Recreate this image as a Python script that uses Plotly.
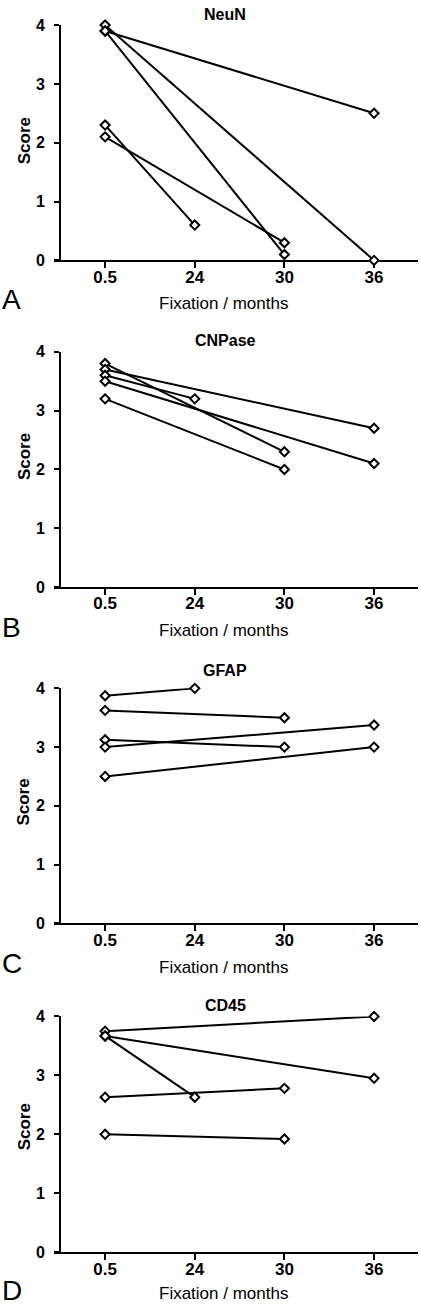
import plotly.graph_objects as go

W, H = 421, 1312

times = ["0.5", "24", "30", "36"]

# NeuN
neun_start = [4.0, 3.9, 3.9, 2.3, 2.1]
neun_end_time = ["36", "30", "36", "24", "30"]
neun_end = [0.0, 0.1, 2.5, 0.6, 0.3]

# CNPase
cnp_start = [3.8, 3.7, 3.6, 3.5, 3.2]
cnp_end_time = ["30", "36", "24", "36", "30"]
cnp_end = [2.3, 2.7, 3.2, 2.1, 2.0]

# GFAP
gfap_start = [3.875, 3.625, 3.125, 3.0, 2.5]
gfap_end_time = ["24", "30", "30", "36", "36"]
gfap_end = [4.0, 3.5, 3.0, 3.375, 3.0]

# CD45
cd45_start = [3.75, 3.67, 3.67, 2.63, 2.0]
cd45_end_time = ["36", "36", "24", "30", "30"]
cd45_end = [4.0, 2.95, 2.63, 2.78, 1.92]

panels = [
    ("NeuN", "A", neun_start, neun_end_time, neun_end),
    ("CNPase", "B", cnp_start, cnp_end_time, cnp_end),
    ("GFAP", "C", gfap_start, gfap_end_time, gfap_end),
    ("CD45", "D", cd45_start, cd45_end_time, cd45_end),
]

dom_px = [(17.3, 255.7), (348.3, 586.7), (689.3, 927.3), (1021.7, 1260.5)]
title_y = [7, 337, 671, 1011]
score_y = [135, 455, 805, 1134]
xtitle_y = [299, 631, 972, 1302]
letter_y = [295, 628, 968, 1299]

NARROW = "Liberation Sans Narrow, Arial Narrow, Liberation Sans, Arial, sans-serif"
SANS = "Liberation Sans, Arial, Helvetica, sans-serif"

def py(px):
    return 1 - px / H

fig = go.Figure()
annotations = []
layout = {}

for i, (title, letter, st, et, ev) in enumerate(panels):
    n = i + 1
    xa = "x" if n == 1 else f"x{n}"
    ya = "y" if n == 1 else f"y{n}"
    for s, t, e in zip(st, et, ev):
        fig.add_trace(go.Scatter(
            x=["0.5", t], y=[s, e], mode="lines",
            line=dict(color="black", width=2),
            xaxis=xa, yaxis=ya, showlegend=False, hoverinfo="skip",
            cliponaxis=False,
        ))
    for s, t, e in zip(st, et, ev):
        fig.add_trace(go.Scatter(
            x=["0.5", t], y=[s, e], mode="markers",
            marker=dict(symbol="diamond", size=7, color="white",
                        line=dict(color="black", width=2)),
            xaxis=xa, yaxis=ya, showlegend=False,
            cliponaxis=False,
        ))
    top, bot = dom_px[i]
    xkey = "xaxis" if n == 1 else f"xaxis{n}"
    ykey = "yaxis" if n == 1 else f"yaxis{n}"
    layout[xkey] = dict(
        domain=[54 / W, 418 / W], anchor=ya, type="category",
        categoryorder="array", categoryarray=times,
        tickvals=times, ticktext=times,
        range=[-0.57, 3.49], showline=True, linecolor="black", linewidth=2,
        ticks="outside", ticklen=6, tickwidth=2, tickcolor="black",
        showgrid=False, zeroline=False, layer="below traces",
        tickfont=dict(family=NARROW, size=17, color="black", weight="bold"),
        ticklabelstandoff=-6,
    )
    layout[ykey] = dict(
        domain=[py(bot), py(top)], anchor="free", position=60 / W,
        range=[0, 4], tickvals=[0, 1, 2, 3, 4],
        showline=True, linecolor="black", linewidth=2,
        ticks="outside", ticklen=5, tickwidth=2, tickcolor="black",
        showgrid=False, zeroline=False, layer="below traces",
        tickfont=dict(family=NARROW, size=16, color="black", weight="bold"),
        ticklabelstandoff=6,
    )
    annotations.append(dict(
        text=title, x=225 / W, y=py(title_y[i]), xref="paper", yref="paper",
        xanchor="center", yanchor="middle", showarrow=False,
        font=dict(family=SANS, size=16, color="black", weight="bold"),
    ))
    annotations.append(dict(
        text="Score", x=24 / W, y=py(score_y[i]), xref="paper", yref="paper",
        xanchor="center", yanchor="middle", showarrow=False, textangle=-90,
        font=dict(family=NARROW, size=17, color="black", weight="bold"),
    ))
    annotations.append(dict(
        text="Fixation / months", x=223 / W, y=py(xtitle_y[i]), xref="paper", yref="paper",
        xanchor="center", yanchor="middle", showarrow=False,
        font=dict(family=SANS, size=17, color="black"),
    ))
    annotations.append(dict(
        text=letter, x=0, y=py(letter_y[i]), xref="paper", yref="paper",
        xanchor="left", yanchor="middle", showarrow=False,
        font=dict(family=SANS, size=28, color="black"),
    ))

fig.update_layout(
    width=W, height=H,
    margin=dict(l=0, r=0, t=0, b=0),
    paper_bgcolor="white", plot_bgcolor="white",
    annotations=annotations,
    **layout,
)

fig.write_html(
    "out.html",
    config={"displayModeBar": False},
    post_script="document.body.style.margin='0';document.body.style.overflow='hidden';",
)
